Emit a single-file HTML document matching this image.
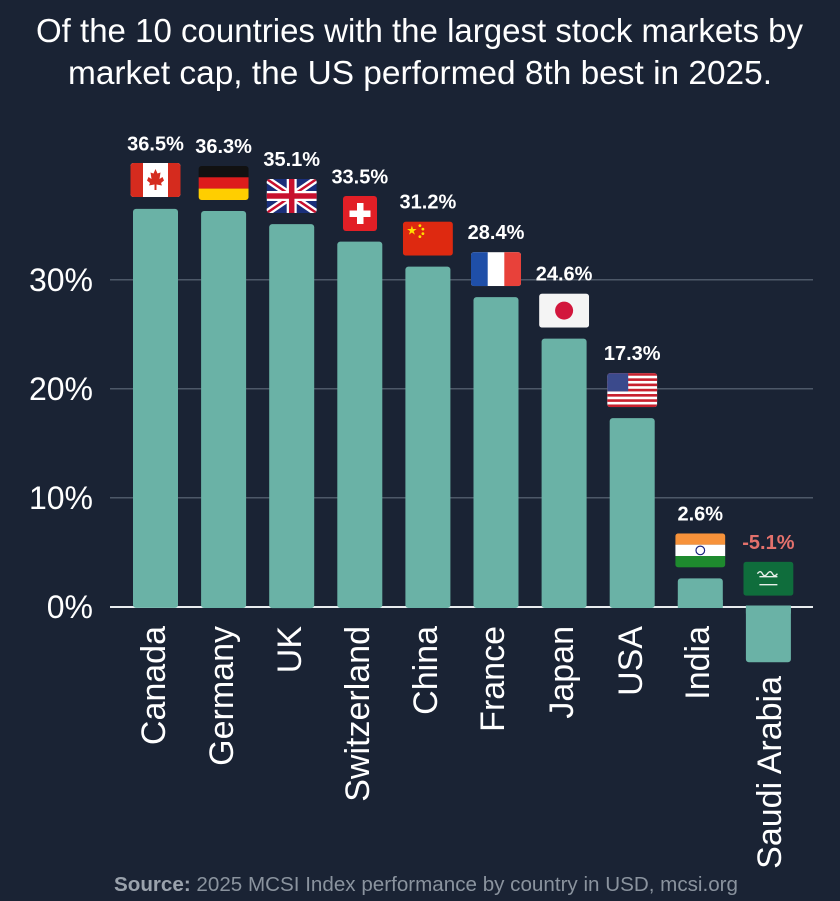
<!DOCTYPE html>
<html><head><meta charset="utf-8"><style>
html,body{margin:0;padding:0;background:#1a2334;}
svg{display:block;}
</style></head><body>
<svg width="840" height="901" viewBox="0 0 840 901" xmlns="http://www.w3.org/2000/svg">
<defs>
<clipPath id="fc"><rect width="50" height="34" rx="3"/></clipPath>
</defs>
<rect width="840" height="901" fill="#1a2334"/>

<!-- Title -->
<g font-family="'Liberation Sans', sans-serif" fill="#ffffff" font-size="33">
<text x="36" y="42" textLength="767" lengthAdjust="spacingAndGlyphs">Of the 10 countries with the largest stock markets by</text>
<text x="68" y="84" textLength="704" lengthAdjust="spacingAndGlyphs">market cap, the US performed 8th best in 2025.</text>
</g>

<!-- gridlines -->
<g stroke="#4d5868" stroke-width="1.5">
<line x1="110" y1="279.7" x2="813" y2="279.7"/>
<line x1="110" y1="388.7" x2="813" y2="388.7"/>
<line x1="110" y1="497.7" x2="813" y2="497.7"/>
</g>
<line x1="110" y1="607" x2="813" y2="607" stroke="#e8ecef" stroke-width="2"/>

<!-- y labels -->
<g font-family="'Liberation Sans', sans-serif" fill="#ffffff" font-size="32" text-anchor="end">
<text x="93" y="291">30%</text>
<text x="93" y="400">20%</text>
<text x="93" y="509">10%</text>
<text x="93" y="618">0%</text>
</g>

<!-- bars -->
<g fill="#6ab2a6">
<rect x="133" y="208.9" width="45" height="399" rx="3"/>
<rect x="201.1" y="211" width="45" height="397" rx="3"/>
<rect x="269.2" y="224.1" width="45" height="384" rx="3"/>
<rect x="337.3" y="241.6" width="45" height="366.4" rx="3"/>
<rect x="405.4" y="266.6" width="45" height="341.4" rx="3"/>
<rect x="473.5" y="297.1" width="45" height="310.9" rx="3"/>
<rect x="541.6" y="338.6" width="45" height="269.4" rx="3"/>
<rect x="609.7" y="418.1" width="45" height="189.9" rx="3"/>
<rect x="677.8" y="578.4" width="45" height="29.6" rx="3"/>
<rect x="745.9" y="605.5" width="45" height="56.8" rx="3"/>
</g>
<rect x="677.8" y="600" width="45" height="8" fill="#6ab2a6"/>
<rect x="745.9" y="605.5" width="45" height="8" fill="#6ab2a6"/>

<!-- value labels -->
<g font-family="'Liberation Sans', sans-serif" font-weight="bold" fill="#ffffff" font-size="20" text-anchor="middle">
<text x="155.5" y="150.5">36.5%</text>
<text x="223.6" y="152.8">36.3%</text>
<text x="291.7" y="166">35.1%</text>
<text x="359.8" y="183.5">33.5%</text>
<text x="427.9" y="208.6">31.2%</text>
<text x="496" y="239">28.4%</text>
<text x="564.1" y="280.5">24.6%</text>
<text x="632.2" y="360">17.3%</text>
<text x="700.3" y="520.4">2.6%</text>
<text x="768.4" y="549" fill="#e3716c">-5.1%</text>
</g>

<!-- flags -->
<!-- Canada -->
<g transform="translate(130.5,163)">
<g clip-path="url(#fc)">
<rect width="50" height="34" fill="#ffffff"/>
<rect width="12.5" height="34" fill="#d52b1e"/>
<rect x="37.5" width="12.5" height="34" fill="#d52b1e"/>
<polygon points="25,6 27,10.5 30,9.5 29,16 32,14 33.5,17.5 30.5,20 31.5,22.5 26,21.5 26,27 24,27 24,21.5 18.5,22.5 19.5,20 16.5,17.5 18,14 21,16 20,9.5 23,10.5" fill="#d52b1e"/>
</g></g>
<!-- Germany -->
<g transform="translate(198.6,166)">
<g clip-path="url(#fc)">
<rect width="50" height="11.4" fill="#111111"/>
<rect y="11.3" width="50" height="11.4" fill="#dd1c1c"/>
<rect y="22.6" width="50" height="11.4" fill="#ffce00"/>
</g></g>
<!-- UK -->
<g transform="translate(266.7,179)">
<g clip-path="url(#fc)">
<rect width="50" height="34" fill="#1a2f7a"/>
<path d="M0,0 L50,34 M50,0 L0,34" stroke="#ffffff" stroke-width="7"/>
<path d="M0,0 L50,34 M50,0 L0,34" stroke="#c8102e" stroke-width="2.5"/>
<path d="M25,0 V34 M0,17 H50" stroke="#ffffff" stroke-width="10"/>
<path d="M25,0 V34 M0,17 H50" stroke="#c8102e" stroke-width="5.5"/>
</g></g>
<!-- Switzerland -->
<g transform="translate(343,196)">
<rect width="34" height="35" rx="3" fill="#e21f26"/>
<rect x="14" y="7" width="6.5" height="21" fill="#ffffff"/>
<rect x="6.5" y="14.5" width="21" height="6.5" fill="#ffffff"/>
</g>
<!-- China -->
<g transform="translate(402.9,221.6)">
<g clip-path="url(#fc)">
<rect width="50" height="34" fill="#de2910"/>
<polygon points="9,4 11.94,13.05 4.24,7.45 13.76,7.45 6.06,13.05" fill="#ffde00"/>
<circle cx="17" cy="4" r="1.4" fill="#ffde00"/>
<circle cx="20" cy="7.5" r="1.4" fill="#ffde00"/>
<circle cx="20" cy="12" r="1.4" fill="#ffde00"/>
<circle cx="17" cy="15" r="1.4" fill="#ffde00"/>
</g></g>
<!-- France -->
<g transform="translate(471,252.1)">
<g clip-path="url(#fc)">
<rect width="50" height="34" fill="#ffffff"/>
<rect width="16.7" height="34" fill="#1f4fa8"/>
<rect x="33.3" width="16.7" height="34" fill="#e8413a"/>
</g></g>
<!-- Japan -->
<g transform="translate(539.1,293.6)">
<g clip-path="url(#fc)">
<rect width="50" height="34" fill="#f4f4f4"/>
<circle cx="25" cy="17" r="9" fill="#d2163c"/>
</g></g>
<!-- USA -->
<g transform="translate(607.2,373.1)">
<g clip-path="url(#fc)">
<rect width="50" height="34" fill="#ffffff"/>
<g fill="#c8202e">
<rect y="0" width="50" height="2.62"/>
<rect y="5.23" width="50" height="2.62"/>
<rect y="10.46" width="50" height="2.62"/>
<rect y="15.69" width="50" height="2.62"/>
<rect y="20.92" width="50" height="2.62"/>
<rect y="26.15" width="50" height="2.62"/>
<rect y="31.38" width="50" height="2.62"/>
</g>
<rect width="21" height="18.3" fill="#3b4a8c"/>
</g></g>
<!-- India -->
<g transform="translate(675.3,533.4)">
<g clip-path="url(#fc)">
<rect width="50" height="11.4" fill="#f7923a"/>
<rect y="11.3" width="50" height="11.4" fill="#ffffff"/>
<rect y="22.6" width="50" height="11.4" fill="#1e8a2e"/>
<circle cx="25" cy="17" r="4.3" fill="none" stroke="#1a237e" stroke-width="1.2"/>
</g></g>
<!-- Saudi -->
<g transform="translate(743.4,561.7)">
<g clip-path="url(#fc)">
<rect width="50" height="34" fill="#0f6d3c"/>
<path d="M14,12 q3,-4 5,0 t5,0 t5,0 t5,0 M16,15 h18" stroke="#e8f0ea" stroke-width="1.3" fill="none"/>
<path d="M16,23 H34" stroke="#e8f0ea" stroke-width="1.3"/>
</g></g>

<!-- x labels -->
<g font-family="'Liberation Sans', sans-serif" fill="#ffffff" font-size="34" text-anchor="end">
<text transform="translate(165,626) rotate(-90)">Canada</text>
<text transform="translate(233,626) rotate(-90)">Germany</text>
<text transform="translate(301,626) rotate(-90)">UK</text>
<text transform="translate(369,626) rotate(-90)">Switzerland</text>
<text transform="translate(437,626) rotate(-90)">China</text>
<text transform="translate(504,626) rotate(-90)">France</text>
<text transform="translate(573,626) rotate(-90)">Japan</text>
<text transform="translate(642,626) rotate(-90)">USA</text>
<text transform="translate(709,626) rotate(-90)">India</text>
<text transform="translate(781,676) rotate(-90)">Saudi Arabia</text>
</g>

<!-- footer -->
<text x="114" y="891" font-family="'Liberation Sans', sans-serif" font-size="20" fill="#8a939e" textLength="624" lengthAdjust="spacingAndGlyphs"><tspan font-weight="bold" fill="#9aa2ac">Source:</tspan> 2025 MCSI Index performance by country in USD, mcsi.org</text>
</svg>
</body></html>
